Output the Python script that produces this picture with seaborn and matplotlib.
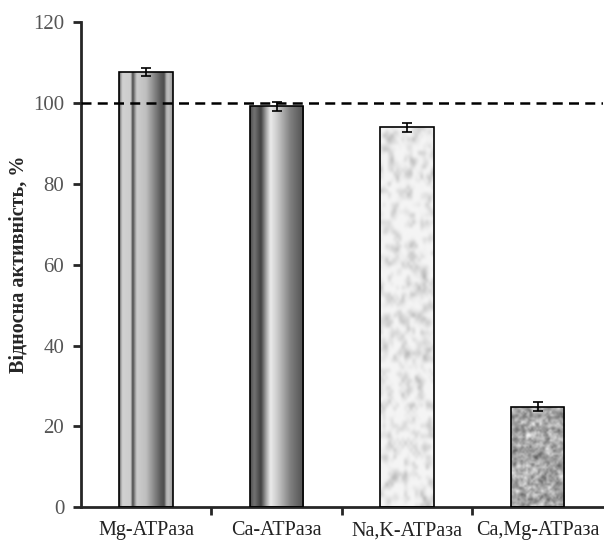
import numpy as np
import pandas as pd
import matplotlib
matplotlib.use('Agg')
import matplotlib.pyplot as plt
import seaborn as sns

# data
categories = ['Mg-ATPаза', 'Ca-ATPаза', 'Na,K-ATPаза', 'Ca,Mg-ATPаза']
activity = [107.6, 99.2, 94.0, 24.9]
errors = [1.0, 1.1, 1.1, 1.2]
yticks = [0, 20, 40, 60, 80, 100, 120]
control_level = 100

sns.set_style('ticks')
plt.rcParams['font.family'] = ['Liberation Serif', 'DejaVu Serif']

df = pd.DataFrame({'group': categories, 'value': activity})

fig = plt.figure(figsize=(6.04, 5.43), dpi=100)
ax = fig.add_axes([0.134, 0.066, 0.864, 0.893])

sns.barplot(data=df, x='group', y='value', ax=ax, width=0.41,
            facecolor='none', edgecolor='black', linewidth=1.2, errorbar=None, zorder=3)


# textures for the bars (style only)
def blur(a, n):
    for _ in range(n):
        a = (a + np.roll(a, 1, 0) + np.roll(a, -1, 0) + np.roll(a, 1, 1) + np.roll(a, -1, 1)) / 5
    return a


def norm(a):
    return (a - a.min()) / (a.max() - a.min())


def stripe(xp, fp, h=20, w=200):
    prof = np.interp(np.linspace(0, 1, w), xp, fp)
    return np.tile(prof, (h, 1))


rng = np.random.default_rng(3)
tex_mg = stripe([0, 0.03, 0.06, 0.22, 0.25, 0.29, 0.33, 0.5, 0.78, 0.84, 0.88, 0.92, 1.0],
                [0.35, 0.6, 0.82, 0.8, 0.25, 0.55, 0.8, 0.75, 0.35, 0.3, 0.7, 0.75, 0.6])
tex_ca = stripe([0, 0.08, 0.2, 0.3, 0.38, 0.5, 0.75, 0.95, 1.0],
                [0.3, 0.45, 0.25, 0.65, 0.92, 0.8, 0.5, 0.35, 0.4])
marble = norm(blur(rng.random((110, 20)), 1) + 0.15 * rng.random((110, 20)))
tex_na = 0.96 - 0.32 * np.clip(marble - 0.45, 0, 1) * 1.8
granite = norm(blur(rng.random((60, 32)), 1) + 0.3 * rng.random((60, 32)))
tex_camg = 0.3 + 0.68 * granite
textures = [tex_mg, tex_ca, tex_na, tex_camg]

for patch, tex in zip(ax.patches, textures):
    x0, y0 = patch.get_x(), patch.get_y()
    w, h = patch.get_width(), patch.get_height()
    im = ax.imshow(tex, cmap='gray', vmin=0, vmax=1, aspect='auto',
                   extent=[x0, x0 + w, y0, y0 + h], zorder=2, interpolation='bicubic')
    im.set_clip_path(patch)

ax.errorbar(x=np.arange(len(categories)), y=activity, yerr=errors, fmt='none',
            ecolor='black', elinewidth=1.2, capsize=3.5, capthick=1.2, zorder=4)

ax.axhline(control_level, color='black', linestyle=(0, (4, 2.5)), linewidth=1.8, zorder=5)

ax.set_xlim(-0.5, 3.5)
ax.set_ylim(0, 120)
ax.set_yticks(yticks)
ax.set_xlabel('')
ax.set_ylabel('Відносна активність, %', fontsize=14.5, fontweight='bold', labelpad=3)

sns.despine(ax=ax)
for s in ['left', 'bottom']:
    ax.spines[s].set_linewidth(2)

ax.tick_params(axis='y', direction='out', length=6, width=2, labelsize=15, labelcolor='#555555', pad=6)
ax.tick_params(axis='x', which='major', length=0, labelsize=14.5, labelcolor='#222222', pad=10)
ax.set_xticks([0.5, 1.5, 2.5], minor=True)
ax.tick_params(axis='x', which='minor', direction='out', length=6, width=2)

ax.set_facecolor('white')
fig.savefig('out.png', dpi=100, facecolor='white')
